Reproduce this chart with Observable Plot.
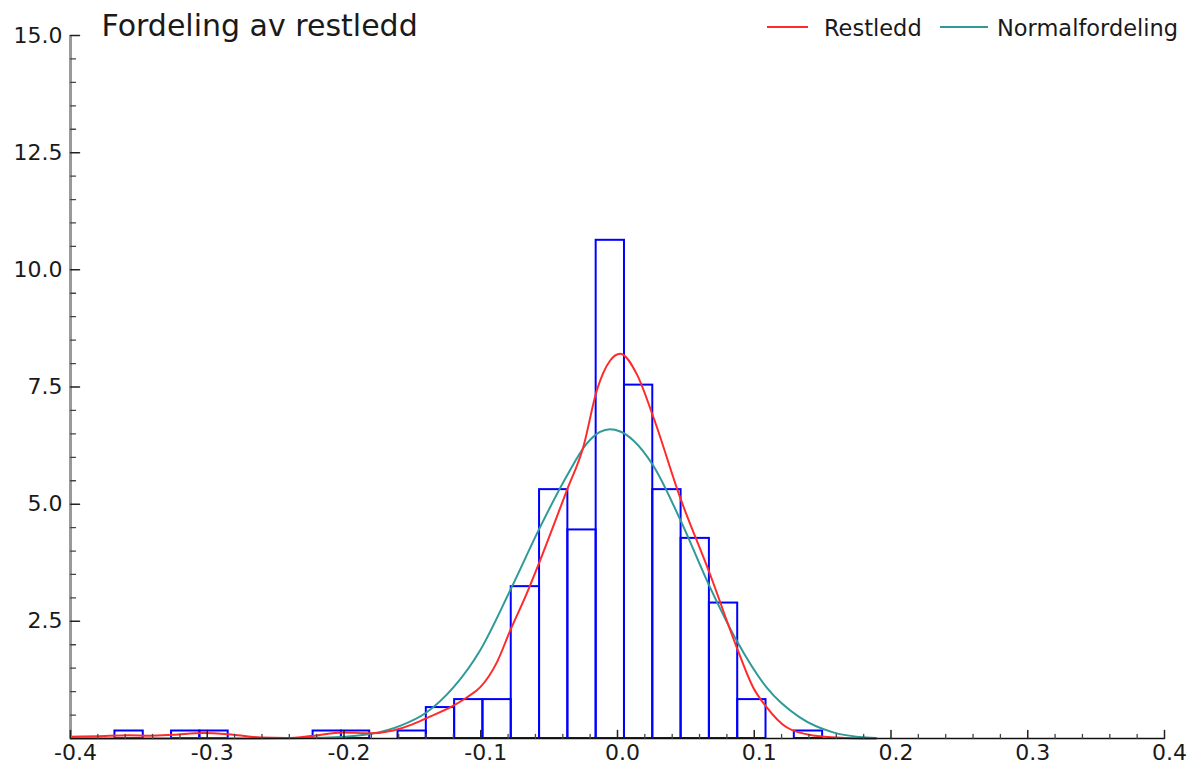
<!DOCTYPE html>
<html><head><meta charset="utf-8">
<script src="https://cdn.jsdelivr.net/npm/d3@7"></script>
<script src="https://cdn.jsdelivr.net/npm/@observablehq/plot@0.6"></script>
<style>body{margin:0;background:#fff} svg{display:block}</style>
</head><body><div id="chart"></div>
<script>
// ---- data ----
const title = "Fordeling av restledd";
const seriesNames = ["Restledd", "Normalfordeling"];
const seriesColors = ["#ff2b2b", "#2f9a97"];
const barColor = "#0000ff";

// histogram: 25 bins (edges) and density per bin
const binEdges = [-0.3675,-0.3468,-0.3261,-0.3054,-0.2847,-0.2640,-0.2433,-0.2226,-0.2019,-0.1812,-0.1605,-0.1398,-0.1191,-0.0984,-0.0777,-0.0570,-0.0363,-0.0156,0.0051,0.0258,0.0465,0.0672,0.0879,0.1086,0.1293,0.1500];
const binDensity = [0.16,0,0.16,0.16,0,0,0,0.16,0.16,0,0.16,0.66,0.83,0.83,3.24,5.31,4.45,10.63,7.54,5.31,4.27,2.89,0.83,0,0.16];

// kernel density curve ("Restledd")
const kdeX = [-0.400,-0.380,-0.357,-0.342,-0.325,-0.303,-0.281,-0.261,-0.242,-0.222,-0.201,-0.181,-0.164,-0.150,-0.140,-0.120,-0.110,-0.1005,-0.0883,-0.0785,-0.0676,-0.0566,-0.0371,-0.0250,-0.0152,-0.0055,0.0020,0.0140,0.0262,0.0457,0.0676,0.0871,0.0992,0.1090,0.1236,0.1430,0.1670,0.1890];
const kdeY = [0.035,0.05,0.07,0.06,0.08,0.12,0.08,0.02,0.01,0.06,0.13,0.11,0.17,0.30,0.43,0.70,0.88,1.09,1.62,2.30,3.01,3.80,5.29,6.22,7.42,8.06,8.21,7.78,6.86,5.15,3.51,1.95,1.09,0.67,0.24,0.064,0.01,0.0];

// normal density curve ("Normalfordeling")
const normX = [-0.400,-0.300,-0.250,-0.220,-0.200,-0.180,-0.159,-0.140,-0.120,-0.1005,-0.0785,-0.0566,-0.0371,-0.0225,-0.0128,-0.0055,0.0020,0.0116,0.0262,0.0457,0.0676,0.0871,0.1090,0.1333,0.1577,0.1820,0.1890];
const normY = [0.0,0.0,0.003,0.015,0.036,0.10,0.27,0.55,1.09,1.88,3.16,4.51,5.60,6.29,6.54,6.60,6.55,6.36,5.82,4.68,3.23,2.09,1.09,0.45,0.13,0.02,0.01];

// axes
const xMajorTicks = [-0.4,-0.3,-0.2,-0.1,0,0.1,0.2,0.3,0.4];
const xTickLabels = ["-0.4","-0.3","-0.2","-0.1","0.0","0.1","0.2","0.3","0.4"];
const xMinorTicks = [-0.38,-0.36,-0.34,-0.32,-0.28,-0.26,-0.24,-0.22,-0.18,-0.16,-0.14,-0.12,-0.08,-0.06,-0.04,-0.02,0.02,0.04,0.06,0.08,0.12,0.14,0.16,0.18,0.22,0.24,0.26,0.28,0.32,0.34,0.36,0.38];
const yMajorTicks = [2.5,5,7.5,10,12.5,15];
const yTickLabels = ["2.5","5.0","7.5","10.0","12.5","15.0"];
const yMinorTicks = [0.5,1,1.5,2,3,3.5,4,4.5,5.5,6,6.5,7,8,8.5,9,9.5,10.5,11,11.5,12,13,13.5,14,14.5];

// ---- build tables ----
const bins = binDensity.map((d, i) => ({x1: binEdges[i], x2: binEdges[i + 1], y: d})).filter(d => d.y > 0);
const kde = kdeX.map((x, i) => ({x, y: kdeY[i]}));
const norm = normX.map((x, i) => ({x, y: normY[i]}));
const xLabel = new Map(xMajorTicks.map((t, i) => [t, xTickLabels[i]]));
const yLabel = new Map(yMajorTicks.map((t, i) => [t, yTickLabels[i]]));

const tickShape = {draw(ctx, l) { ctx.moveTo(0, 0); ctx.lineTo(0, -l); }};
const FONT = "DejaVu Sans";

function legendMark() {
  const g = d3.create("svg:g").attr("font-family", FONT).attr("font-size", 22.5)
    .attr("fill", "#1a1a1a").attr("text-anchor", "start");
  const items = [{x1: 767, x2: 808, tx: 824}, {x1: 940, x2: 988, tx: 997}];
  items.forEach((it, i) => {
    g.append("line").attr("x1", it.x1).attr("x2", it.x2).attr("y1", 27).attr("y2", 27)
      .attr("stroke", seriesColors[i]).attr("stroke-width", 2);
    g.append("text").attr("x", it.tx).attr("y", 35.5).attr("text-anchor", "start").text(seriesNames[i]);
  });
  return g.node();
}

const plot = Plot.plot({
  width: 1193, height: 769,
  marginLeft: 70, marginRight: 29, marginTop: 35, marginBottom: 31,
  x: {domain: [-0.4, 0.4]},
  y: {domain: [0, 15]},
  style: {fontFamily: FONT, background: "#fff", color: "#1a1a1a"},
  marks: [
    Plot.rect(bins, {x1: "x1", x2: "x2", y1: 0, y2: "y", fill: "none", stroke: barColor, strokeWidth: 2}),
    Plot.line(norm, {x: "x", y: "y", stroke: seriesColors[1], strokeWidth: 2, curve: "monotone-x"}),
    Plot.line(kde, {x: "x", y: "y", stroke: seriesColors[0], strokeWidth: 2, curve: "monotone-x"}),
    Plot.ruleX([-0.4], {stroke: "#9a9a9a", strokeWidth: 3}),
    Plot.ruleY([0], {stroke: "#111", strokeWidth: 1.5}),
    Plot.vector(xMinorTicks, {x: d => d, y: 0, length: 4, rotate: 0, anchor: "start", shape: tickShape, stroke: "#444", strokeWidth: 1.3}),
    Plot.vector(xMajorTicks, {x: d => d, y: 0, length: 8, rotate: 0, anchor: "start", shape: tickShape, stroke: "#222", strokeWidth: 1.5}),
    Plot.vector(yMinorTicks, {x: -0.4, y: d => d, length: 5, rotate: 90, anchor: "start", shape: tickShape, stroke: "#444", strokeWidth: 1.3}),
    Plot.vector(yMajorTicks, {x: -0.4, y: d => d, length: 9, rotate: 90, anchor: "start", shape: tickShape, stroke: "#222", strokeWidth: 1.5}),
    Plot.axisX({ticks: xMajorTicks, tickSize: 0, tickPadding: 6, tickFormat: d => xLabel.get(d), fontSize: 22, dx: 5, fill: "#1a1a1a", label: null}),
    Plot.axisY({ticks: yMajorTicks, tickSize: 0, tickPadding: 8, tickFormat: d => yLabel.get(d), fontSize: 22, fill: "#1a1a1a", label: null}),
    Plot.text([title], {frameAnchor: "top-left", dx: 31, lineAnchor: "bottom", textAnchor: "start", fontSize: 30, fill: "#1a1a1a"}),
    legendMark
  ]
});
document.getElementById("chart").appendChild(plot);
</script>
</body></html>
